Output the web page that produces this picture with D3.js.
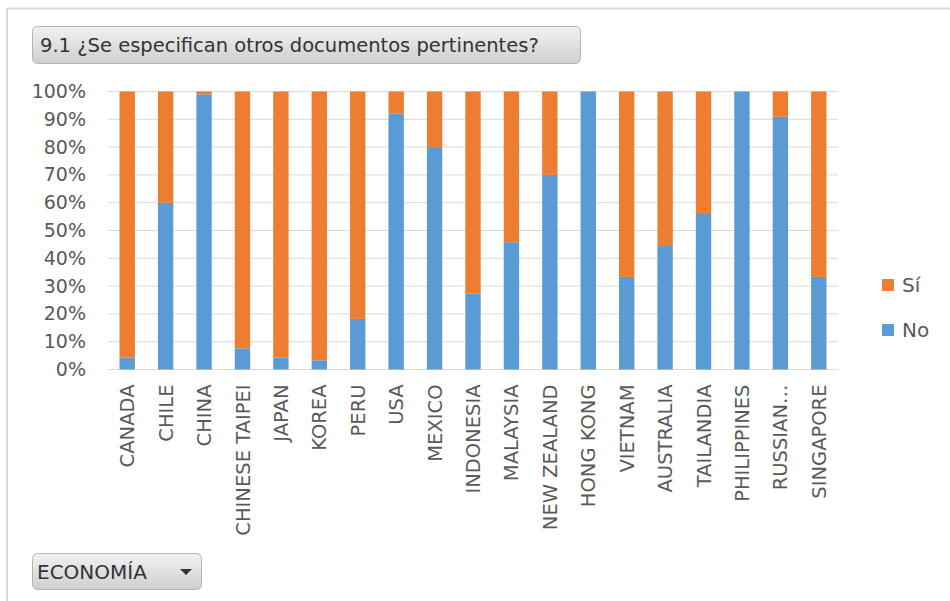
<!DOCTYPE html>
<html>
<head>
<meta charset="utf-8">
<script src="https://cdn.jsdelivr.net/npm/d3@7"></script>
<style>
  body { margin: 0; background: #fff; }
  svg text { font-family: "DejaVu Sans", Verdana, sans-serif; }
</style>
</head>
<body>
<div id="chart"></div>
<script>
// data (share of "No" per economy, "Sí" is the rest)
var economies = ["CANADA", "CHILE", "CHINA", "CHINESE TAIPEI", "JAPAN", "KOREA", "PERU", "USA",
  "MEXICO", "INDONESIA", "MALAYSIA", "NEW ZEALAND", "HONG KONG", "VIETNAM", "AUSTRALIA",
  "TAILANDIA", "PHILIPPINES", "RUSSIAN\u2026", "SINGAPORE"];
var noValues = [4.3, 60, 99, 7.6, 4.3, 3.3, 18.2, 92, 80, 27.3, 45.8, 70, 100, 33.3, 44.4, 56.3, 100, 90.9, 33.3];
var siValues = [95.7, 40, 1, 92.4, 95.7, 96.7, 81.8, 8, 20, 72.7, 54.2, 30, 0, 66.7, 55.6, 43.7, 0, 9.1, 66.7];
var yTicks = [0, 10, 20, 30, 40, 50, 60, 70, 80, 90, 100];
var seriesNames = ["No", "Sí"];
var seriesColors = ["#5b9bd5", "#ed7d31"];

var svgWidth = 950;
var svgHeight = 601;

var svg = d3.select("#chart")
  .append("svg")
  .attr("width", svgWidth)
  .attr("height", svgHeight);

// gradient for the pivot buttons
var grad = svg.append("defs").append("linearGradient")
  .attr("id", "btn").attr("x1", 0).attr("y1", 0).attr("x2", 0).attr("y2", 1);
grad.append("stop").attr("offset", "0%").attr("stop-color", "#f2f2f2");
grad.append("stop").attr("offset", "100%").attr("stop-color", "#cfcfcf");

// panel border (top + left only visible)
svg.append("line").attr("x1", 7).attr("x2", 950).attr("y1", 8.5).attr("y2", 8.5)
  .attr("stroke", "#d9d9d9").attr("stroke-width", 2);
svg.append("line").attr("x1", 7).attr("x2", 7).attr("y1", 8).attr("y2", 601)
  .attr("stroke", "#d9d9d9").attr("stroke-width", 2);

// title button
svg.append("rect")
  .attr("x", 32.5).attr("y", 26.5).attr("width", 548).attr("height", 37)
  .attr("rx", 5).attr("fill", "url(#btn)").attr("stroke", "#b4b4b4");
svg.append("text")
  .attr("x", 40).attr("y", 52)
  .attr("fill", "#333")
  .style("font-size", "19.5px")
  .text("9.1 ¿Se especifican otros documentos pertinentes?");

// scales
var x = d3.scaleBand()
  .domain(economies)
  .range([108, 838])
  .paddingInner(0.6)
  .paddingOuter(0.3);

var y = d3.scaleLinear()
  .domain([0, 100])
  .range([369.5, 91.5]);

// gridlines
svg.append("g")
  .selectAll("line")
  .data(yTicks)
  .enter()
  .append("line")
  .attr("x1", 108).attr("x2", 838)
  .attr("y1", d => y(d)).attr("y2", d => y(d))
  .attr("stroke", "#d9d9d9")
  .attr("stroke-width", 1);

// y axis labels
var leftAxis = d3.axisLeft(y).tickValues(yTicks).tickFormat(d => d + "%").tickSize(0).tickPadding(0);
var yAxisG = svg.append("g")
  .attr("transform", "translate(86,0)")
  .call(leftAxis);
yAxisG.select(".domain").remove();
yAxisG.selectAll("text")
  .attr("fill", "#595959")
  .style("font-size", "19px")
  .style("font-family", "DejaVu Sans, sans-serif");

// stacked bars
var rows = economies.map((e, i) => ({ name: e, No: noValues[i], "Sí": siValues[i] }));
var stacked = d3.stack().keys(seriesNames)(rows);

svg.append("g")
  .selectAll("g")
  .data(stacked)
  .enter()
  .append("g")
  .attr("fill", (d, i) => seriesColors[i])
  .selectAll("rect")
  .data(d => d)
  .enter()
  .append("rect")
  .attr("x", d => x(d.data.name))
  .attr("width", x.bandwidth())
  .attr("y", d => y(d[1]))
  .attr("height", d => y(d[0]) - y(d[1]));

// x axis labels
var bottomAxis = d3.axisBottom(x).tickSize(0).tickPadding(0);
var xAxisG = svg.append("g")
  .attr("transform", "translate(0,369.5)")
  .call(bottomAxis);
xAxisG.select(".domain").remove();
xAxisG.selectAll("text")
  .attr("transform", "rotate(-90)")
  .attr("x", -15)
  .attr("y", 0)
  .attr("dy", "0.36em")
  .attr("text-anchor", "end")
  .attr("fill", "#595959")
  .style("font-size", "19.5px")
  .style("font-family", "DejaVu Sans, sans-serif");

// legend (Sí on top)
var legendItems = [{ name: "Sí", color: seriesColors[1], y: 279 }, { name: "No", color: seriesColors[0], y: 324 }];
var legend = svg.append("g");
legend.selectAll("rect")
  .data(legendItems)
  .enter()
  .append("rect")
  .attr("x", 882).attr("y", d => d.y)
  .attr("width", 12).attr("height", 12)
  .attr("fill", d => d.color);
legend.selectAll("text")
  .data(legendItems)
  .enter()
  .append("text")
  .attr("x", 902).attr("y", d => d.y + 13)
  .attr("fill", "#595959")
  .style("font-size", "20px")
  .text(d => d.name);

// economy filter button
svg.append("rect")
  .attr("x", 32.5).attr("y", 553.5).attr("width", 169).attr("height", 36)
  .attr("rx", 5).attr("fill", "url(#btn)").attr("stroke", "#b4b4b4");
svg.append("text")
  .attr("x", 37).attr("y", 579)
  .attr("fill", "#333")
  .style("font-size", "20px")
  .text("ECONOMÍA");
svg.append("path")
  .attr("d", "M180,569 L192,569 L186,575 Z")
  .attr("fill", "#333");
</script>
</body>
</html>
